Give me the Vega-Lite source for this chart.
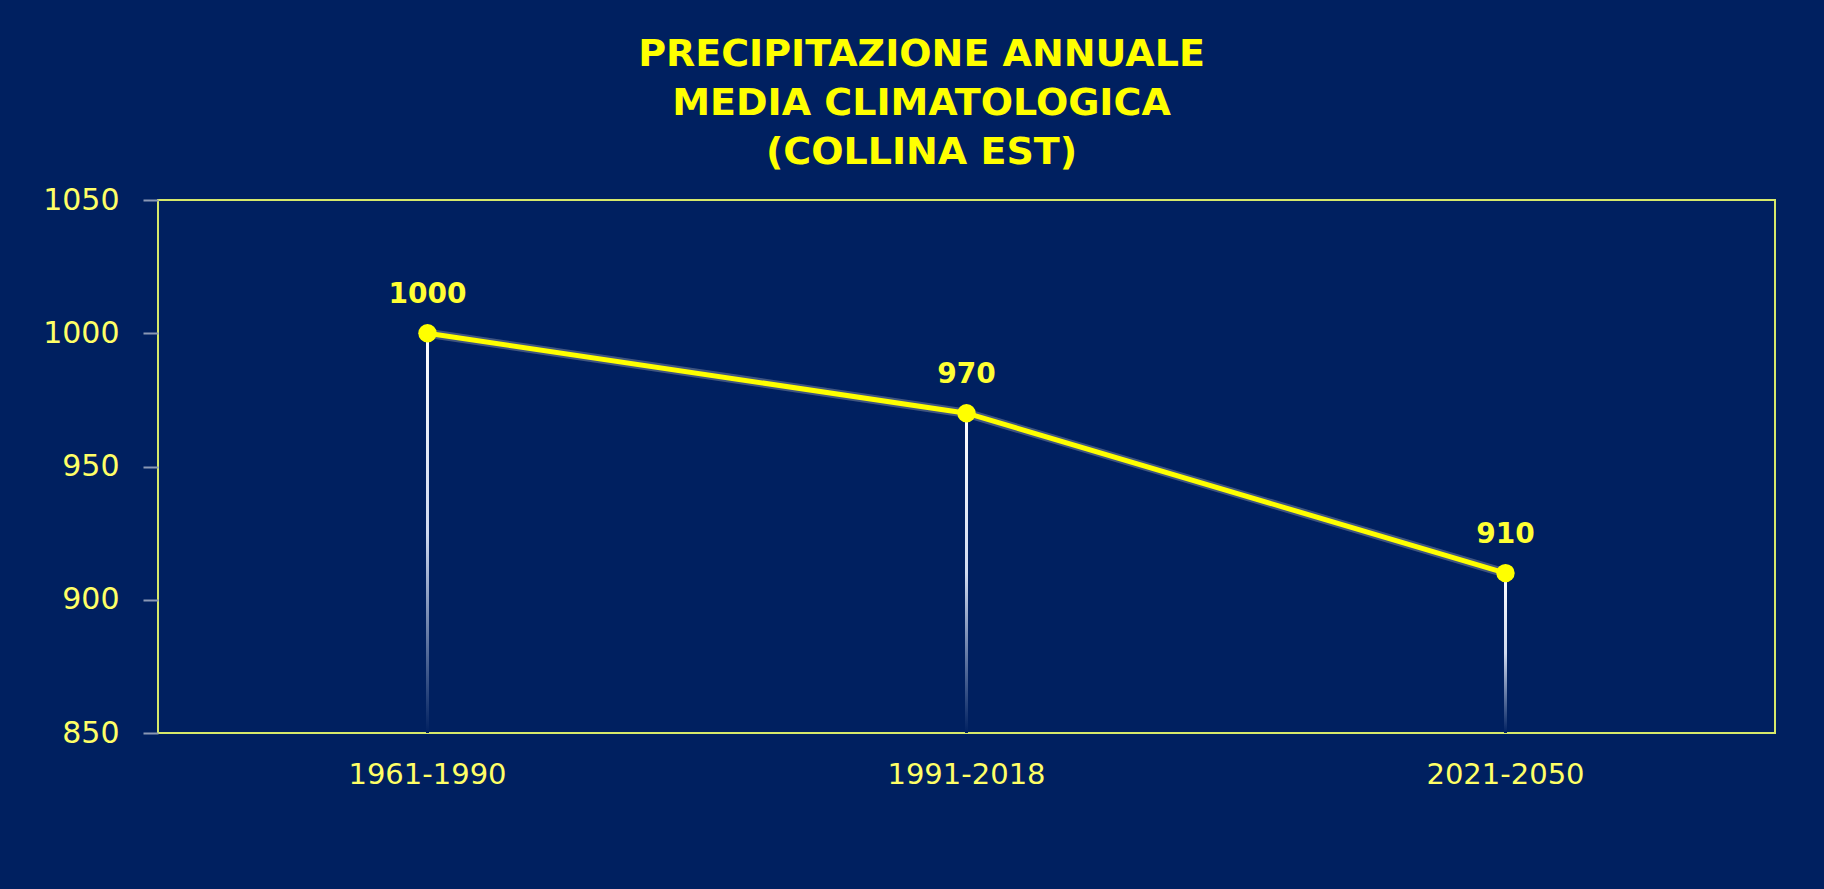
{
  "$schema": "https://vega.github.io/schema/vega-lite/v6.json",
  "autosize": {"type": "none"},
  "width": 1617,
  "height": 533,
  "padding": {"left": 158, "top": 200, "right": 49, "bottom": 156},
  "background": "#002060",
  "title": {
    "text": ["PRECIPITAZIONE ANNUALE", "MEDIA CLIMATOLOGICA", "(COLLINA EST)"],
    "font": "DejaVu Sans",
    "fontSize": 38,
    "fontWeight": "bold",
    "color": "#FFFF00",
    "lineHeight": 49,
    "anchor": "middle",
    "frame": "group",
    "dx": -45,
    "offset": 13
  },
  "config": {
    "view": {"stroke": "#D6E86A", "strokeWidth": 2, "fill": null},
    "font": "DejaVu Sans"
  },
  "data": {
    "values": [
      {"period": "1961-1990", "value": 1000},
      {"period": "1991-2018", "value": 970},
      {"period": "2021-2050", "value": 910}
    ]
  },
  "encoding": {
    "x": {
      "field": "period",
      "type": "nominal",
      "sort": null,
      "scale": {"type": "band", "paddingInner": 0, "paddingOuter": 0},
      "axis": {
        "title": null,
        "labelAngle": 0,
        "labelFont": "DejaVu Sans",
        "labelFontSize": 29,
        "labelColor": "#FFFF66",
        "ticks": false,
        "tickSize": 0,
        "labelPadding": 27,
        "domain": false,
        "grid": false
      }
    },
    "y": {
      "field": "value",
      "type": "quantitative",
      "scale": {"domain": [850, 1050], "nice": false, "zero": false},
      "axis": {
        "title": null,
        "values": [850, 900, 950, 1000, 1050],
        "format": "d",
        "labelFont": "DejaVu Sans",
        "labelFontSize": 30,
        "labelColor": "#FFFF66",
        "tickSize": 15,
        "tickColor": "#8A98B4",
        "tickWidth": 2,
        "labelPadding": 24,
        "domain": false,
        "grid": false
      }
    }
  },
  "layer": [
    {
      "mark": {
        "type": "bar",
        "width": 3,
        "color": {
          "gradient": "linear",
          "x1": 0, "y1": 0, "x2": 0, "y2": 1,
          "stops": [
            {"offset": 0, "color": "#FFFFFF"},
            {"offset": 0.5, "color": "#D0DAF0"},
            {"offset": 1, "color": "#002060"}
          ]
        }
      },
      "encoding": {"y2": {"datum": 850}}
    },
    {
      "mark": {"type": "line", "color": "#8E96A6", "strokeWidth": 9, "opacity": 0.45},
      "encoding": {}
    },
    {
      "mark": {"type": "line", "color": "#FFFF00", "strokeWidth": 5},
      "encoding": {}
    },
    {
      "mark": {"type": "point", "filled": true, "color": "#FFFF00", "size": 340, "opacity": 1},
      "encoding": {}
    },
    {
      "mark": {"type": "text", "dy": -38, "font": "DejaVu Sans", "fontSize": 28, "fontWeight": "bold", "color": "#FFFF33"},
      "encoding": {"text": {"field": "value", "type": "quantitative", "format": "d"}}
    }
  ]
}
